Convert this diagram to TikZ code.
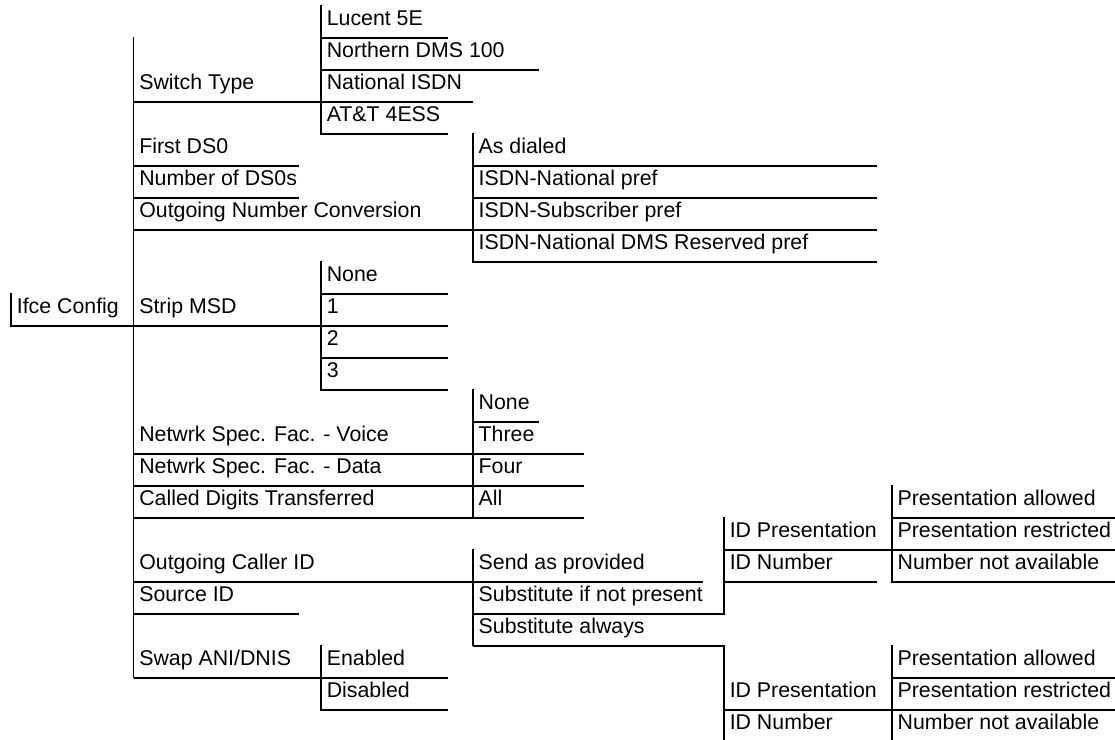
\documentclass[tikz,border=0pt]{standalone}
\usepackage{fontspec}
\setmainfont{Liberation Sans}
\usepackage{tikz}

\begin{document}
\begin{tikzpicture}[
    x=1pt, y=-15pt,
    item/.style={anchor=north west, inner xsep=2.5pt, inner ysep=0pt,
      text height=9.4pt, text depth=5.6pt, font=\fontsize{10}{12}\selectfont},
    branch/.style={line width=0.85pt},
  ]
    \useasboundingbox (0,-0.156) rectangle (522.7,22.969);
    % root
    \node[item] (root) at (5.2,9) {Ifce Config};
    % first level
    \coordinate (trunk) at (62.6,1);
    \node[item] (swt) at (62.6,2) {Switch Type};
    \node[item] (ds0) at (62.6,4) {First DS0};
    \node[item] (nds0) at (62.6,5) {Number of DS0s};
    \node[item] (onc) at (62.6,6) {Outgoing Number Conversion};
    \node[item] (strip) at (62.6,9) {Strip MSD};
    \node[item] (nsfv) at (62.6,13) {Netwrk Spec. Fac. - Voice};
    \node[item] (nsfd) at (62.6,14) {Netwrk Spec. Fac. - Data};
    \node[item] (cdt) at (62.6,15) {Called Digits Transferred};
    \node[item] (oci) at (62.6,17) {Outgoing Caller ID};
    \node[item] (srcid) at (62.6,18) {Source ID};
    \node[item] (swap) at (62.6,20) {Swap ANI/DNIS};
    % switch types
    \node[item] (lucent) at (150.5,0) {Lucent 5E};
    \node[item] (northern) at (150.5,1) {Northern DMS 100};
    \node[item] (nisdn) at (150.5,2) {National ISDN};
    \node[item] (att) at (150.5,3) {AT\&T 4ESS};
    % strip msd
    \node[item] (msd0) at (150.5,8) {None};
    \node[item] (one) at (150.5,9) {1};
    \node[item] (msd2) at (150.5,10) {2};
    \node[item] (msd3) at (150.5,11) {3};
    % swap
    \node[item] (enabled) at (150.5,20) {Enabled};
    \node[item] (disabled) at (150.5,21) {Disabled};
    % number conversion
    \node[item] (asdialed) at (221.7,4) {As dialed};
    \node[item] (natpref) at (221.7,5) {ISDN-National pref};
    \node[item] (subpref) at (221.7,6) {ISDN-Subscriber pref};
    \node[item] (dmspref) at (221.7,7) {ISDN-National DMS Reserved pref};
    % network facilities
    \node[item] (nfnone) at (221.7,12) {None};
    \node[item] (three) at (221.7,13) {Three};
    \node[item] (four) at (221.7,14) {Four};
    \node[item] (all) at (221.7,15) {All};
    % caller id
    \node[item] (sendas) at (221.7,17) {Send as provided};
    \node[item] (subifnot) at (221.7,18) {Substitute if not present};
    \node[item] (subalways) at (221.7,19) {Substitute always};
    \node[item] (idpres) at (339.4,16) {ID Presentation};
    \node[item] (idnum) at (339.4,17) {ID Number};
    \node[item] (idpres2) at (339.4,21) {ID Presentation};
    \node[item] (idnum2) at (339.4,22) {ID Number};
    \node[item] (presallow) at (418.1,15) {Presentation allowed};
    \node[item] (presrestr) at (418.1,16) {Presentation restricted};
    \node[item] (numna) at (418.1,17) {Number not available};
    \node[item] (presallow2) at (418.1,20) {Presentation allowed};
    \node[item] (presrestr2) at (418.1,21) {Presentation restricted};
    \node[item] (numna2) at (418.1,22) {Number not available};

    % root and trunk
    \draw[branch] (root.north west) -- (root.south west) -- (strip.south west);
    \draw[branch] (trunk) -- (swap.south west);
    \draw[branch] (swt.south west) -- (nisdn.south west) -- +(71.2,0);
    \draw[branch] (ds0.south west) -- +(77.6,0);
    \draw[branch] (nds0.south west) -- +(77.6,0);
    \draw[branch] (onc.south west) -- (subpref.south west) -- +(189.4,0);
    \draw[branch] (strip.south west) -- (one.south west) -- +(59.7,0);
    \draw[branch] (nsfv.south west) -- (three.south west) -- +(52.1,0);
    \draw[branch] (nsfd.south west) -- (four.south west) -- +(52.1,0);
    \draw[branch] (cdt.south west) -- (all.south west) -- +(52.1,0);
    \draw[branch] (oci.south west) -- (sendas.south west) -- +(107.8,0);
    \draw[branch] (srcid.south west) -- +(77.6,0);
    \draw[branch] (swap.south west) -- (enabled.south west) -- +(59.7,0);
    % switch type
    \draw[branch] (lucent.north west) -- (att.south west) -- +(59.7,0);
    \draw[branch] (lucent.south west) -- +(59.7,0);
    \draw[branch] (northern.south west) -- +(102.2,0);
    % strip msd
    \draw[branch] (msd0.north west) -- (msd3.south west) -- +(59.7,0);
    \draw[branch] (msd0.south west) -- +(59.7,0);
    \draw[branch] (msd2.south west) -- +(59.7,0);
    % swap
    \draw[branch] (enabled.north west) -- (disabled.south west) -- +(59.7,0);
    % number conversion
    \draw[branch] (asdialed.north west) -- (dmspref.south west) -- +(189.4,0);
    \draw[branch] (asdialed.south west) -- +(189.4,0);
    \draw[branch] (natpref.south west) -- +(189.4,0);
    % network facilities
    \draw[branch] (nfnone.north west) -- (all.south west);
    \draw[branch] (nfnone.south west) -- +(31,0);
    % caller id
    \draw[branch] (sendas.north west) -- (subalways.south west);
    \draw[branch] (subifnot.south west) -| (idpres.north west);
    \draw[branch] (subalways.south west) -| (idnum2.south west);
    \draw[branch] (idpres.south west) -- (presrestr.south west) -- +(104.6,0);
    \draw[branch] (idnum.south west) -- +(71.7,0);
    \draw[branch] (presallow.north west) -- (numna.south west) -- +(104.6,0);
    \draw[branch] (presallow.south west) -- +(104.6,0);
    \draw[branch] (idpres2.south west) -- (presrestr2.south west) -- +(104.6,0);
    \draw[branch] (presallow2.north west) -- (numna2.south west);
    \draw[branch] (presallow2.south west) -- +(104.6,0);
  \end{tikzpicture}
\end{document}
